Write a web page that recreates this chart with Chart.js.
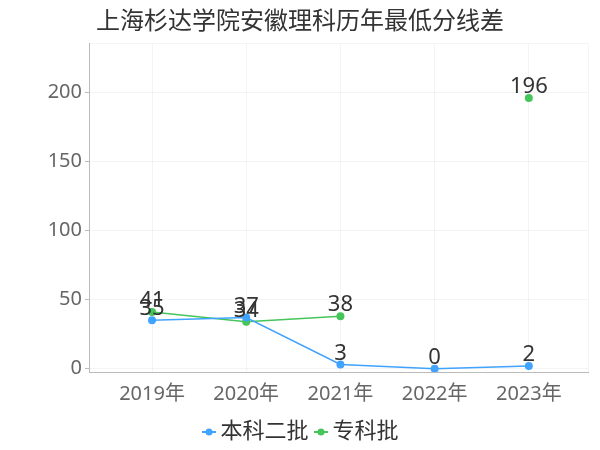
<!DOCTYPE html>
<html lang="zh">
<head>
  <meta charset="UTF-8" />
  <title>上海杉达学院安徽理科历年最低分线差</title>
  <script src="https://cdn.jsdelivr.net/npm/chart.js"></script>
  <style>
    body { margin: 0; background: #fff; }
    #wrap { width: 600px; height: 450px; position: relative; }
  </style>
</head>
<body>
  <div id="wrap"><canvas id="chart"></canvas></div>

  <script>
    // data
    const years = ["2019年", "2020年", "2021年", "2022年", "2023年"];
    const benke2 = [35, 37, 3, 0, 2];          // 本科二批
    const zhuanke = [41, 34, 38, null, 196];   // 专科批
    const yTicks = [0, 50, 100, 150, 200];

    const FONT = '"Noto Sans", "Noto Sans CJK SC", sans-serif';
    const BLUE = "#3fa3ff";
    const GREEN = "#45c55a";

    // x axis runs over index positions so the end gaps can match the original
    const X_MIN = -0.669, X_MAX = 4.628;
    const Y_MIN = -2.4, Y_MAX = 235.2;

    function toPoints(arr) {
      return arr.map((v, i) => ({ x: i, y: v }));
    }

    // line + dot marker, drawn on the right part of the image so it sits
    // a little further from the previous legend item
    function legendMarker(color) {
      const c = document.createElement("canvas");
      c.width = 21; c.height = 10;
      const g = c.getContext("2d");
      g.strokeStyle = color;
      g.lineWidth = 2;
      g.beginPath(); g.moveTo(7, 5); g.lineTo(21, 5); g.stroke();
      g.fillStyle = color;
      g.beginPath(); g.arc(14, 5, 3.5, 0, Math.PI * 2); g.fill();
      return c;
    }

    // value labels above each point
    const valueLabels = {
      id: "valueLabels",
      afterDatasetsDraw(chart) {
        const ctx = chart.ctx;
        ctx.save();
        ctx.font = "22px " + FONT;
        ctx.fillStyle = "#333";
        ctx.textAlign = "center";
        ctx.textBaseline = "alphabetic";
        chart.data.datasets.forEach((ds, di) => {
          const meta = chart.getDatasetMeta(di);
          meta.data.forEach((pt, i) => {
            const v = ds.data[i].y;
            if (v === null || v === undefined) return;
            ctx.fillText(String(v), pt.x, pt.y - 5);
          });
        });
        ctx.restore();
      }
    };

    new Chart(document.getElementById("chart"), {
      type: "line",
      data: {
        datasets: [
          {
            label: "本科二批",
            data: toPoints(benke2),
            borderColor: BLUE,
            backgroundColor: BLUE,
            borderWidth: 1.5,
            pointRadius: 4,
            pointBorderWidth: 0,
            pointStyle: "circle",
            tension: 0
          },
          {
            label: "专科批",
            data: toPoints(zhuanke),
            borderColor: GREEN,
            backgroundColor: GREEN,
            borderWidth: 1.5,
            pointRadius: 4,
            pointBorderWidth: 0,
            pointStyle: "circle",
            spanGaps: false,
            tension: 0
          }
        ]
      },
      options: {
        responsive: true,
        maintainAspectRatio: false,
        animation: false,
        layout: { padding: { top: 0, left: 0, right: 0, bottom: -3 } },
        plugins: {
          title: {
            display: true,
            text: "上海杉达学院安徽理科历年最低分线差",
            color: "#333",
            font: { family: FONT, size: 24, weight: "normal" },
            padding: { top: 8, bottom: 7 }
          },
          legend: {
            position: "bottom",
            labels: {
              color: "#333",
              font: { family: FONT, size: 22 },
              usePointStyle: true,
              boxWidth: 8,
              padding: 5,
              generateLabels(chart) {
                return chart.data.datasets.map((ds, i) => ({
                  text: ds.label,
                  fillStyle: ds.borderColor,
                  strokeStyle: ds.borderColor,
                  pointStyle: legendMarker(ds.borderColor),
                  fontColor: "#333",
                  hidden: false,
                  datasetIndex: i
                }));
              }
            }
          },
          tooltip: { enabled: false }
        },
        scales: {
          x: {
            type: "linear",
            min: X_MIN,
            max: X_MAX,
            afterBuildTicks(axis) {
              axis.ticks = [X_MIN, 0, 1, 2, 3, 4, X_MAX].map(v => ({ value: v }));
            },
            grid: { color: "rgba(0,0,0,0.045)", drawTicks: false },
            border: { color: "#bbb" },
            ticks: {
              autoSkip: false,
              maxRotation: 0,
              padding: 10,
              color: "#666",
              font: { family: FONT, size: 20 },
              callback: v => Number.isInteger(v) ? years[v] : ""
            }
          },
          y: {
            min: Y_MIN,
            max: Y_MAX,
            afterBuildTicks(axis) {
              axis.ticks = yTicks.concat([Y_MAX]).map(v => ({ value: v }));
            },
            afterFit(axis) { axis.width = 89; },
            grid: {
              color: "rgba(0,0,0,0.045)",
              tickColor: c => yTicks.includes(c.tick.value) ? "#bbb" : "rgba(0,0,0,0)",
              tickLength: 4
            },
            border: { color: "#bbb" },
            ticks: {
              padding: 3,
              color: "#666",
              font: { family: FONT, size: 20 },
              callback: v => yTicks.includes(v) ? String(v) : ""
            }
          },
          // empty right-side spacer so the plot stops where the original does
          yRight: {
            position: "right",
            grid: { display: false },
            border: { display: false },
            ticks: { display: false },
            afterFit(axis) { axis.width = 12; }
          }
        }
      },
      plugins: [valueLabels]
    });
  </script>
</body>
</html>
